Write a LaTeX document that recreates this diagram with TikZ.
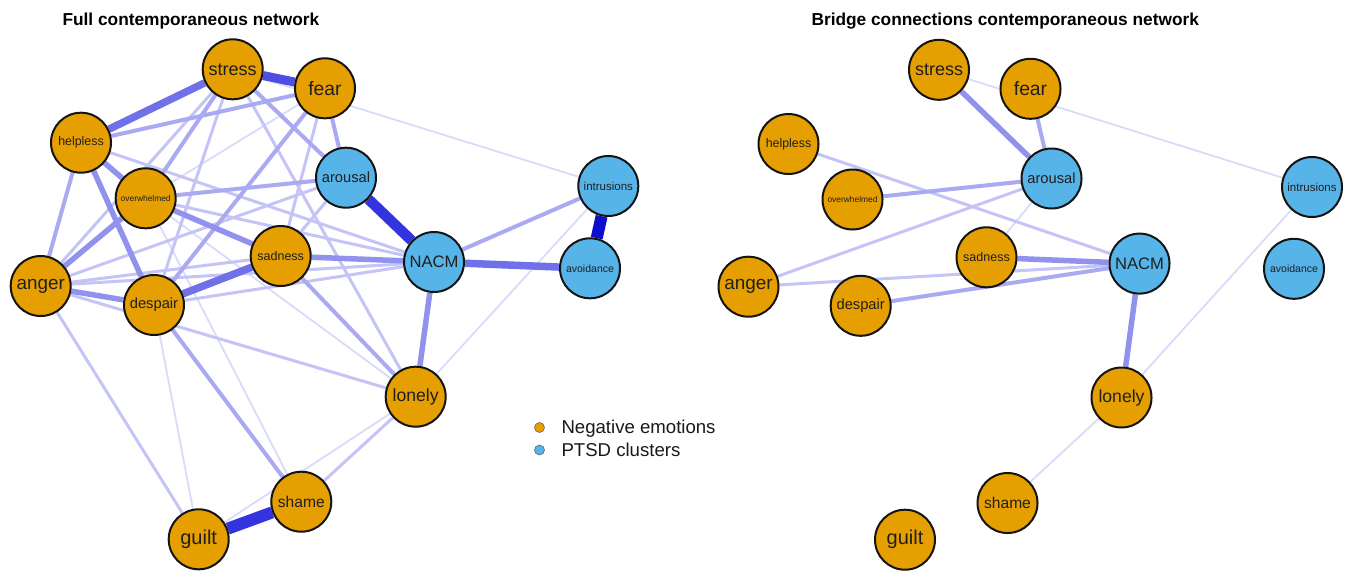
\documentclass[tikz,border=0pt]{standalone}
\usepackage{fontspec}
\setmainfont{Liberation Sans}
\usepackage{tikz}
\usetikzlibrary{backgrounds}

\definecolor{emocol}{RGB}{230,159,0}
\definecolor{ptsdcol}{RGB}{86,180,233}
\definecolor{ca}{RGB}{218,218,250}
\definecolor{cb}{RGB}{196,196,247}
\definecolor{cc}{RGB}{170,170,242}
\definecolor{cd}{RGB}{145,145,238}
\definecolor{ce}{RGB}{112,112,232}
\definecolor{cf}{RGB}{78,78,226}
\definecolor{cg}{RGB}{52,52,222}
\definecolor{ch}{RGB}{14,14,205}

\tikzset{
  emo/.style={circle, draw=black!92, line width=2pt, fill=emocol, minimum size=60pt, inner sep=0pt, text=black!88},
  ptsd/.style={emo, fill=ptsdcol},
  fs/.style={font=\fontsize{#1}{#1}\selectfont},
  wa/.style={draw=ca, line width=1.8pt},
  wb/.style={draw=cb, line width=3pt},
  wc/.style={draw=cc, line width=4pt},
  wd/.style={draw=cd, line width=5.5pt},
  we/.style={draw=ce, line width=7.5pt},
  wf/.style={draw=cf, line width=9pt},
  wg/.style={draw=cg, line width=10.5pt},
  wh/.style={draw=ch, line width=12pt},
  ttl/.style={anchor=base west, font=\bfseries\fontsize{17.3}{17.3}\selectfont},
  leg/.style={anchor=base west, fs=18.6, text=black!90}
}

\begin{document}
\begin{tikzpicture}[x=1pt, y=-1pt]
    \useasboundingbox (0,0) rectangle (1348,571);

    \node[ttl] (ttl1) at (59,25) {Full contemporaneous network};
    \node[ttl] (ttl2) at (808,25) {Bridge connections contemporaneous network};

    % full network
    \node[emo, fs=18] (st) at (232.7,69.3) {stress};
    \node[emo, fs=19.3] (fe) at (325,88.3) {fear};
    \node[emo, fs=12.4] (he) at (81,142.7) {helpless};
    \node[emo, fs=8.4] (ov) at (145.7,198.3) {overwhelmed};
    \node[ptsd, fs=14.7] (ar) at (346,177.7) {arousal};
    \node[ptsd, fs=11.5] (in) at (608.3,186) {intrusions};
    \node[emo, fs=18.9] (an) at (40.7,286) {anger};
    \node[emo, fs=14.7] (de) at (154,305) {despair};
    \node[emo, fs=12.5] (sa) at (280.7,256) {sadness};
    \node[ptsd, fs=16.6] (na) at (434,262) {NACM};
    \node[ptsd, fs=10.5] (av) at (590,268.3) {avoidance};
    \node[emo, fs=17.6] (lo) at (415.7,396.7) {lonely};
    \node[emo, fs=15.6] (sh) at (301.3,501.7) {shame};
    \node[emo, fs=20] (gu) at (198.7,539.3) {guilt};

    \begin{pgfonlayer}{background}
    \draw[wa] (st) -- (in);
    \draw[wa] (lo) -- (in);
    \draw[wa] (de) -- (gu);
    \draw[wa] (gu) -- (lo);
    \draw[wa] (ov) -- (sh);
    \draw[wa] (ov) -- (lo);
    \draw[wa] (fe) -- (ov);
    \draw[wb] (fe) -- (sa);
    \draw[wb] (st) -- (an);
    \draw[wb] (st) -- (de);
    \draw[wb] (st) -- (lo);
    \draw[wb] (an) -- (sa);
    \draw[wb] (an) -- (na);
    \draw[wb] (an) -- (ar);
    \draw[wb] (an) -- (gu);
    \draw[wb] (an) -- (lo);
    \draw[wb] (he) -- (na);
    \draw[wb] (de) -- (na);
    \draw[wb] (sa) -- (ar);
    \draw[wb] (ov) -- (na);
    \draw[wb] (lo) -- (sh);
    \draw[wc] (na) -- (in);
    \draw[wc] (st) -- (ar);
    \draw[wc] (st) -- (ov);
    \draw[wc] (fe) -- (ar);
    \draw[wc] (fe) -- (de);
    \draw[wc] (fe) -- (he);
    \draw[wc] (he) -- (an);
    \draw[wc] (ov) -- (ar);
    \draw[wc] (de) -- (sh);
    \draw[wc] (sa) -- (lo);
    \draw[wd] (ov) -- (sa);
    \draw[wd] (an) -- (ov);
    \draw[wd] (he) -- (ov);
    \draw[wd] (he) -- (de);
    \draw[wd] (sa) -- (na);
    \draw[wd] (na) -- (lo);
    \draw[wd] (an) -- (de);
    \draw[we] (na) -- (av);
    \draw[we] (st) -- (he);
    \draw[we] (de) -- (sa);
    \draw[wf] (st) -- (fe);
    \draw[wg] (ar) -- (na);
    \draw[wg, line width=12pt] (gu) -- (sh);
    \draw[wh] (in) -- (av);
    \end{pgfonlayer}

    % bridge network
    \node[emo, fs=18] (st2) at (939,69.8) {stress};
    \node[emo, fs=19.3] (fe2) at (1030.5,88.8) {fear};
    \node[emo, fs=12.4] (he2) at (788.5,144) {helpless};
    \node[emo, fs=8.4] (ov2) at (852.5,199.5) {overwhelmed};
    \node[ptsd, fs=14.7] (ar2) at (1051.5,178.5) {arousal};
    \node[ptsd, fs=11.5] (in2) at (1312,187) {intrusions};
    \node[emo, fs=18.9] (an2) at (748.5,286.7) {anger};
    \node[emo, fs=14.7] (de2) at (860.7,305.8) {despair};
    \node[emo, fs=12.5] (sa2) at (986.5,257.3) {sadness};
    \node[ptsd, fs=16.6] (na2) at (1139.5,263.6) {NACM};
    \node[ptsd, fs=10.5] (av2) at (1294,268.8) {avoidance};
    \node[emo, fs=17.6] (lo2) at (1121.5,397.5) {lonely};
    \node[emo, fs=15.6] (sh2) at (1007.5,503) {shame};
    \node[emo, fs=20] (gu2) at (905,539.7) {guilt};

    \begin{pgfonlayer}{background}
    \draw[wa] (st2) -- (in2);
    \draw[wa] (sa2) -- (ar2);
    \draw[wa] (lo2) -- (in2);
    \draw[wa] (lo2) -- (sh2);
    \draw[wb] (he2) -- (na2);
    \draw[wb] (an2) -- (ar2);
    \draw[wb] (an2) -- (na2);
    \draw[wc] (fe2) -- (ar2);
    \draw[wc] (ov2) -- (ar2);
    \draw[wc] (de2) -- (na2);
    \draw[wd] (st2) -- (ar2);
    \draw[wd] (sa2) -- (na2);
    \draw[wd] (na2) -- (lo2);
    \end{pgfonlayer}

    % legend
    \node[circle, draw=black!60, line width=0.6pt, fill=emocol, minimum size=10pt, inner sep=0pt] (dneg) at (539.5,427.5) {};
    \node[circle, draw=black!60, line width=0.6pt, fill=ptsdcol, minimum size=10pt, inner sep=0pt] (dpts) at (539.5,450) {};
    \node[leg] (lneg) at (558,433.5) {Negative emotions};
    \node[leg] (lpts) at (558,456) {PTSD clusters};
\end{tikzpicture}
\end{document}
